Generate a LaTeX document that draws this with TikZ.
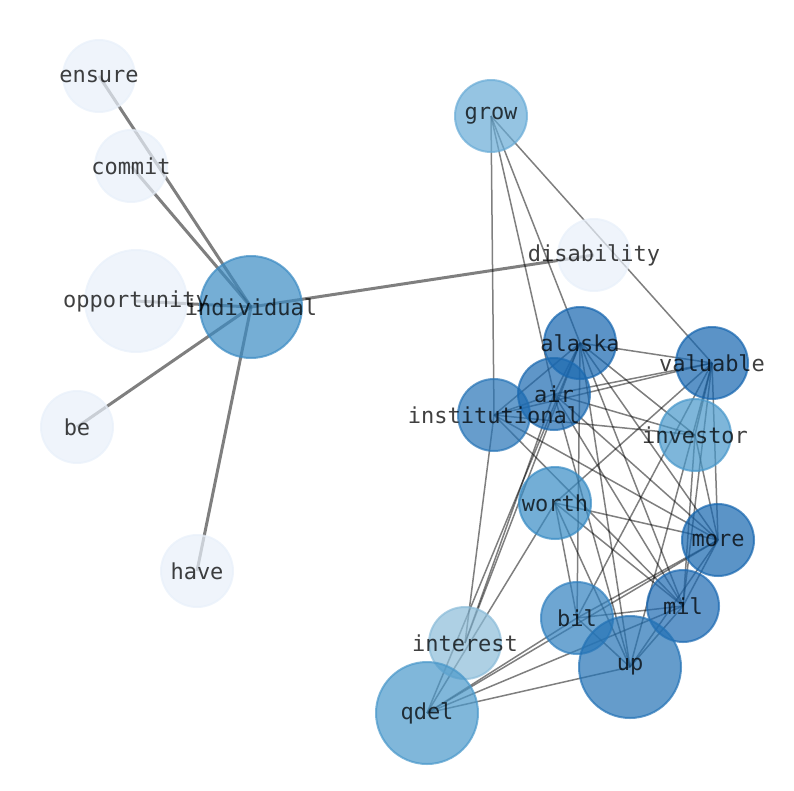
\documentclass[tikz,border=0pt]{standalone}
\usepackage{fontspec}
\setmonofont{DejaVu Sans Mono}
\pgfdeclarelayer{bg}
\pgfsetlayers{bg,main}
\definecolor{cLight}{RGB}{232,240,250}
\definecolor{cIndiv}{RGB}{59,139,195}
\definecolor{cGrow}{RGB}{104,171,214}
\definecolor{cAlaska}{RGB}{21,101,175}
\definecolor{cValuable}{RGB}{21,101,175}
\definecolor{cAir}{RGB}{27,105,176}
\definecolor{cInst}{RGB}{39,116,182}
\definecolor{cInvestor}{RGB}{71,151,202}
\definecolor{cWorth}{RGB}{55,139,196}
\definecolor{cMore}{RGB}{22,102,175}
\definecolor{cMil}{RGB}{28,105,178}
\definecolor{cBil}{RGB}{48,128,191}
\definecolor{cInterest}{RGB}{139,188,217}
\definecolor{cUp}{RGB}{35,114,181}
\definecolor{cQdel}{RGB}{74,152,202}
\begin{document}
\begin{tikzpicture}[x=1pt,y=-1pt,
  vtx/.style={circle, minimum size=72pt, inner sep=0pt, line width=2pt,
    fill=#1, draw=#1, fill opacity=0.7, draw opacity=0.7},
  bigvtx/.style={vtx=#1, minimum size=102pt},
  lbl/.style={font=\ttfamily\fontsize{22}{24}\selectfont, text=black, text opacity=0.75, inner sep=0pt},
  edg/.style={draw=black, draw opacity=0.5, line width=1.5pt},
  wedg/.style={draw=black, draw opacity=0.5, line width=3pt}]
\useasboundingbox (0,0) rectangle (794,790);
% circles
\node[vtx=cLight] (ensure) at (99,76) {};
\node[vtx=cLight] (commit) at (131,166) {};
\node[bigvtx=cLight] (opportunity) at (136,301) {};
\node[vtx=cLight] (be) at (77,427) {};
\node[vtx=cLight] (have) at (197,571) {};
\node[vtx=cLight] (disability) at (594,255) {};
\node[bigvtx=cIndiv] (individual) at (251,307) {};
\node[vtx=cGrow] (grow) at (491,116) {};
\node[vtx=cInst] (institutional) at (494,415) {};
\node[vtx=cAlaska] (alaska) at (580,343) {};
\node[vtx=cAir] (air) at (554,394) {};
\node[vtx=cValuable] (valuable) at (712,363) {};
\node[vtx=cInvestor] (investor) at (695,435) {};
\node[vtx=cWorth] (worth) at (555,503) {};
\node[vtx=cMore] (more) at (718,540) {};
\node[vtx=cMil] (mil) at (683,606) {};
\node[vtx=cInterest] (interest) at (465,643) {};
\node[vtx=cBil] (bil) at (577,618) {};
\node[bigvtx=cUp] (up) at (630,667) {};
\node[bigvtx=cQdel] (qdel) at (427,713) {};
% labels
\foreach \n in {ensure,commit,opportunity,be,have,disability,individual,grow,institutional,alaska,air,valuable,investor,worth,more,mil,interest,bil,up,qdel}
  \node[lbl] (\n-t) at (\n.center) {\n};
% edges
\begin{pgfonlayer}{bg}
\foreach \b in {ensure,commit,opportunity,be,have,disability}
  \draw[wedg] (individual.center) -- (\b.center);
\foreach \a/\b in {grow/institutional, grow/air, grow/alaska, grow/valuable,
  alaska/valuable, alaska/air, alaska/institutional, alaska/investor, alaska/more, alaska/mil, alaska/bil, alaska/up, alaska/interest, alaska/qdel,
  valuable/air, valuable/institutional, valuable/worth, valuable/more, valuable/mil, valuable/up, valuable/bil, valuable/investor,
  air/institutional, air/investor, air/more, air/mil, air/up, air/interest,
  institutional/investor, institutional/more, institutional/mil, institutional/interest,
  investor/mil, investor/more,
  worth/more, worth/mil, worth/up, worth/bil, worth/qdel,
  more/mil, more/bil, more/up, more/qdel,
  mil/bil, mil/up, mil/qdel,
  bil/up, bil/qdel,
  up/qdel}
  \draw[edg] (\a.center) -- (\b.center);
\end{pgfonlayer}
\end{tikzpicture}
\end{document}
